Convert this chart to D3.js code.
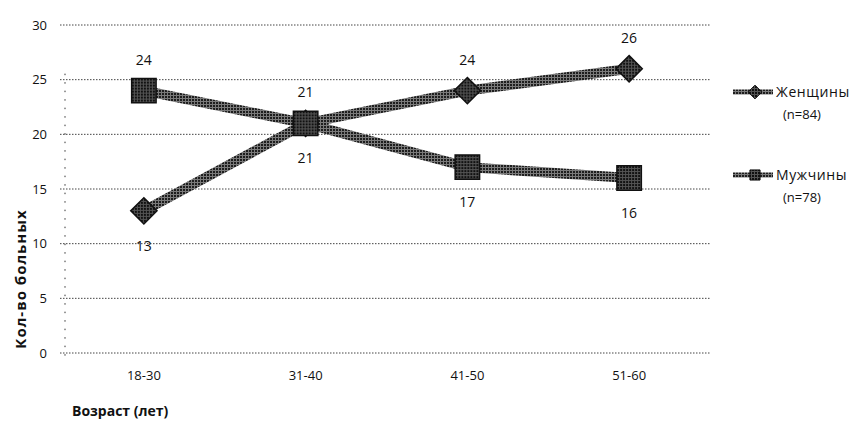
<!doctype html>
<html lang="ru">
<head>
  <meta charset="utf-8">
  <title>Кол-во больных по возрасту</title>
</head>
<style>
html, body, svg {
    margin: 0;
    padding: 0;
    border: 0;
    background: #fff;
}
text { font-family: "Open Sans", sans-serif; fill: #111; }
</style>
<body>
  <svg></svg>
</body>
<script src="https://d3js.org/d3.v7.min.js"></script>
<script type="text/javascript">
    var categories = ["18-30", "31-40", "41-50", "51-60"];
    var women = [13, 21, 24, 26];
    var men = [24, 21, 17, 16];
    var yTicks = [0, 5, 10, 15, 20, 25, 30];
    var legendNames = [["Женщины", "(n=84)"], ["Мужчины", "(n=78)"]];

    var w = 858, h = 421;
    var plotLeft = 63, plotRight = 710, plotTop = 25, plotBottom = 353;

    var svg = d3.select("svg").attr("width", w).attr("height", h);

    var defs = svg.append("defs");
    // stippled look of the scanned lines
    var pat = defs.append("pattern")
      .attr("id", "dots").attr("width", 3).attr("height", 3)
      .attr("patternUnits", "userSpaceOnUse");
    pat.append("rect").attr("width", 3).attr("height", 3).attr("fill", "#7a7a7a");
    pat.append("rect").attr("width", 2).attr("height", 2).attr("fill", "#1e1e1e");

    var pat2 = defs.append("pattern")
      .attr("id", "dots2").attr("width", 3).attr("height", 3)
      .attr("patternUnits", "userSpaceOnUse");
    pat2.append("rect").attr("width", 3).attr("height", 3).attr("fill", "#555");
    pat2.append("rect").attr("width", 2).attr("height", 2).attr("fill", "#111");

    var x = d3.scaleBand().domain(categories).range([plotLeft, plotRight]);
    var y = d3.scaleLinear().domain([0, 30]).range([plotBottom, plotTop]);

    // gridlines
    svg.append("g").selectAll("line")
      .data(yTicks)
      .enter().append("line")
      .attr("x1", plotLeft - 3).attr("x2", plotRight)
      .attr("y1", function(d){ return y(d); })
      .attr("y2", function(d){ return y(d); })
      .attr("stroke", "#444")
      .attr("stroke-width", 1)
      .attr("stroke-dasharray", "1.5,1.5");

    // y axis dotted line
    svg.append("line")
      .attr("x1", plotLeft + 2).attr("x2", plotLeft + 2)
      .attr("y1", y(25) - 6).attr("y2", plotBottom + 6)
      .attr("stroke", "#333")
      .attr("stroke-dasharray", "1.5,7");

    var yAxis = svg.append("g")
      .attr("transform", "translate(" + plotLeft + ",0)")
      .call(d3.axisLeft(y).tickValues(yTicks).tickSize(0).tickPadding(16));
    yAxis.select(".domain").remove();
    yAxis.selectAll("text").style("font-size", "13px").style("font-family", "Open Sans").attr("fill", "#111");

    var xAxis = svg.append("g")
      .attr("transform", "translate(0," + plotBottom + ")")
      .call(d3.axisBottom(x).tickSize(0).tickPadding(18));
    xAxis.select(".domain").remove();
    xAxis.selectAll("text").style("font-size", "13px").style("font-family", "Open Sans").attr("fill", "#111");

    function cx(i){ return x(categories[i]) + x.bandwidth() / 2; }

    var line = d3.line()
      .x(function(d, i){ return cx(i); })
      .y(function(d){ return y(d); });

    [women, men].forEach(function(s){
      svg.append("path")
        .datum(s)
        .attr("d", line)
        .attr("fill", "none")
        .attr("stroke", "url(#dots)")
        .attr("stroke-width", 10);
    });

    var diamond = d3.symbol().type(d3.symbolDiamond2).size(440);
    var square = d3.symbol().type(d3.symbolSquare2).size(760);

    function markers(s, sym){
      svg.append("g").selectAll("path")
        .data(s)
        .enter().append("path")
        .attr("d", sym)
        .attr("transform", function(d, i){ return "translate(" + cx(i) + "," + y(d) + ")"; })
        .attr("fill", "url(#dots2)")
        .attr("stroke", "#111")
        .attr("stroke-width", 1.5);
    }
    markers(women, diamond);
    markers(men, square);

    // data labels: the higher series above its point, the lower one below
    function labels(s, other){
      svg.append("g").selectAll("text")
        .data(s)
        .enter().append("text")
        .attr("x", function(d, i){ return cx(i); })
        .attr("y", function(d, i){
          return d >= other[i] && !(d === other[i] && s === women) ? y(d) - 26 : y(d) + 40;
        })
        .attr("text-anchor", "middle")
        .style("font-size", "14px")
        .text(function(d){ return d; });
    }
    labels(women, men);
    labels(men, women);

    // legend
    var legendY = [92, 175];
    legendNames.forEach(function(n, k){
      var g = svg.append("g").attr("transform", "translate(733," + legendY[k] + ")");
      g.append("line").attr("x1", 0).attr("x2", 40).attr("y1", 0).attr("y2", 0)
        .attr("stroke", "url(#dots)").attr("stroke-width", 5);
      g.append("path").attr("d", (k === 0 ? d3.symbol().type(d3.symbolDiamond2).size(120)
                                          : d3.symbol().type(d3.symbolSquare2).size(130)))
        .attr("transform", "translate(22,0)")
        .attr("fill", "url(#dots2)").attr("stroke", "#111");
      g.append("text").attr("x", 43).attr("y", 5).style("font-size", "14px")
        .style("letter-spacing", "0.6px").text(n[0]);
      g.append("text").attr("x", 69).attr("y", 27).attr("text-anchor", "middle")
        .style("font-size", "13px").text(n[1]);
    });

    // axis titles
    svg.append("text")
      .attr("transform", "translate(26,279) rotate(-90)")
      .attr("text-anchor", "middle")
      .style("font-size", "15px").style("font-weight", "bold")
      .style("letter-spacing", "1px")
      .text("Кол-во больных");

    svg.append("text")
      .attr("x", 72).attr("y", 416)
      .style("font-size", "14px").style("font-weight", "bold")
      .text("Возраст (лет)");
</script>
</html>
